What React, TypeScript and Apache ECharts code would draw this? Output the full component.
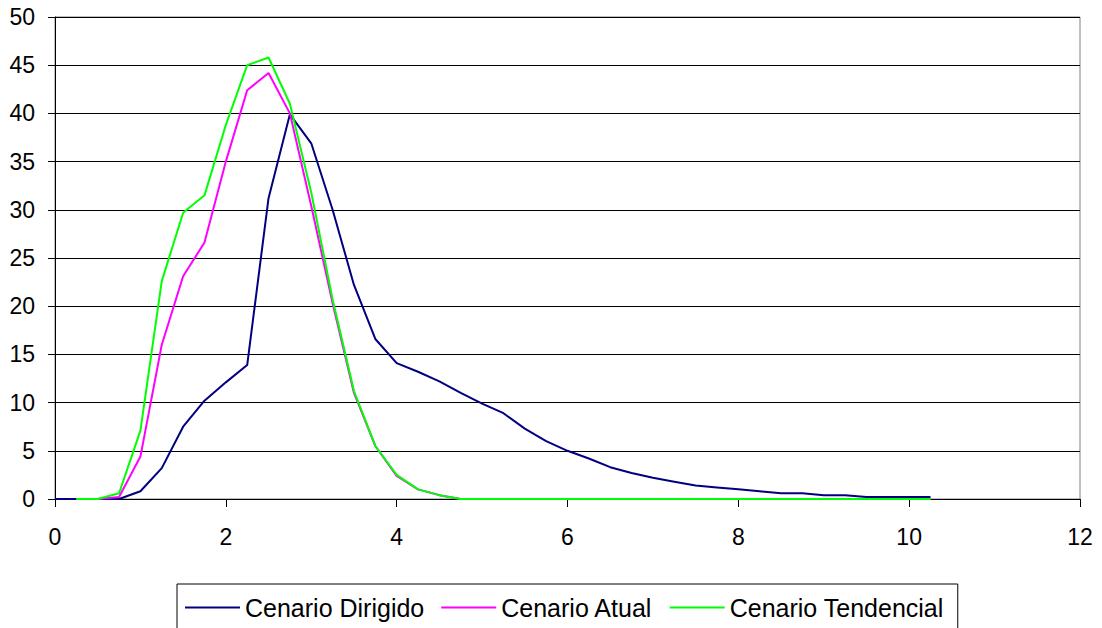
import React, { useEffect, useRef } from "react";
import * as echarts from "echarts";

const xValues = [
  0, 0.25, 0.5, 0.75, 1, 1.25, 1.5, 1.75, 2, 2.25, 2.5, 2.75, 3, 3.25, 3.5, 3.75,
  4, 4.25, 4.5, 4.75, 5, 5.25, 5.5, 5.75, 6, 6.25, 6.5, 6.75, 7, 7.25, 7.5, 7.75,
  8, 8.25, 8.5, 8.75, 9, 9.25, 9.5, 9.75, 10, 10.25,
];

const dirigido = [
  0, 0, 0, 0, 0.8, 3.2, 7.5, 10.2, 12.1, 13.9, 31.2, 39.9, 36.9, 30.0, 22.2, 16.6,
  14.1, 13.2, 12.2, 11.0, 9.9, 8.9, 7.3, 6.0, 5.0, 4.2, 3.3, 2.7, 2.2, 1.8, 1.4, 1.2,
  1.0, 0.8, 0.6, 0.6, 0.4, 0.4, 0.2, 0.2, 0.2, 0.2,
];

const atual = [
  null, 0, 0, 0.2, 4.4, 16.0, 23.1, 26.6, 35.0, 42.4, 44.2, 40.0, 30.4, 20.3, 11.0, 5.5,
  2.4, 1.0, 0.4, 0, 0, 0, 0, 0, 0, 0, 0, 0, 0, 0, 0, 0,
  0, 0, 0, 0, 0, 0, 0, 0, 0, 0,
];

const tendencial = [
  null, 0, 0, 0.6, 7.1, 22.6, 29.7, 31.5, 38.8, 45.0, 45.8, 41.0, 31.8, 20.7, 11.2, 5.5,
  2.5, 1.0, 0.4, 0, 0, 0, 0, 0, 0, 0, 0, 0, 0, 0, 0, 0,
  0, 0, 0, 0, 0, 0, 0, 0, 0, 0,
];

const seriesNames = ["Cenario Dirigido", "Cenario Atual", "Cenario Tendencial"];
const seriesColors = ["#000080", "#FF00FF", "#00FF00"];

const FONT = "'Liberation Sans', Arial, sans-serif";

function pairs(values: (number | null)[]) {
  return xValues.map((x, i) => [x, values[i] === null ? "-" : values[i]]);
}

export default function App() {
  const ref = useRef<HTMLDivElement>(null);

  useEffect(() => {
    if (!ref.current) return;
    const chart = echarts.init(ref.current, undefined, { renderer: "svg" });
    const all = [dirigido, atual, tendencial];
    chart.setOption({
      animation: false,
      backgroundColor: "#ffffff",
      textStyle: { fontFamily: FONT },
      grid: {
        left: 55,
        right: 22,
        top: 17,
        bottom: 129,
        show: true,
        borderColor: "#808080",
        borderWidth: 1,
        backgroundColor: "transparent",
      },
      legend: {
        data: seriesNames,
        left: 177,
        top: 584,
        orient: "horizontal",
        icon: "path://M0,0H55V2H0Z",
        borderColor: "#000000",
        borderWidth: 1,
        padding: [11, 14, 14, 8],
        itemWidth: 55,
        itemHeight: 24,
        itemGap: 17,
        textStyle: { fontFamily: FONT, fontSize: 25, color: "#000000" },
      },
      xAxis: {
        type: "value",
        min: 0,
        max: 12,
        interval: 2,
        axisLine: { show: true, lineStyle: { color: "#000000", width: 1 } },
        axisTick: { show: true, length: 8, lineStyle: { color: "#000000" } },
        axisLabel: { fontFamily: FONT, fontSize: 23, color: "#000000", margin: 26 },
        splitLine: { show: false },
      },
      yAxis: {
        type: "value",
        min: 0,
        max: 50,
        interval: 5,
        axisLine: { show: true, lineStyle: { color: "#000000", width: 1 } },
        axisTick: { show: true, length: 7, lineStyle: { color: "#000000" } },
        axisLabel: { fontFamily: FONT, fontSize: 23, color: "#000000", margin: 20 },
        splitLine: { show: true, lineStyle: { color: "#000000", width: 1 } },
      },
      series: seriesNames.map((name, i) => ({
        name,
        type: "line",
        data: pairs(all[i]),
        symbol: "none",
        showSymbol: false,
        connectNulls: false,
        lineStyle: { color: seriesColors[i], width: 2 },
        itemStyle: { color: seriesColors[i] },
      })),
    });
    return () => chart.dispose();
  }, []);

  return (
    <div
      ref={ref}
      style={{ position: "fixed", left: 0, top: 0, width: 1102, height: 628, background: "#fff" }}
    />
  );
}
